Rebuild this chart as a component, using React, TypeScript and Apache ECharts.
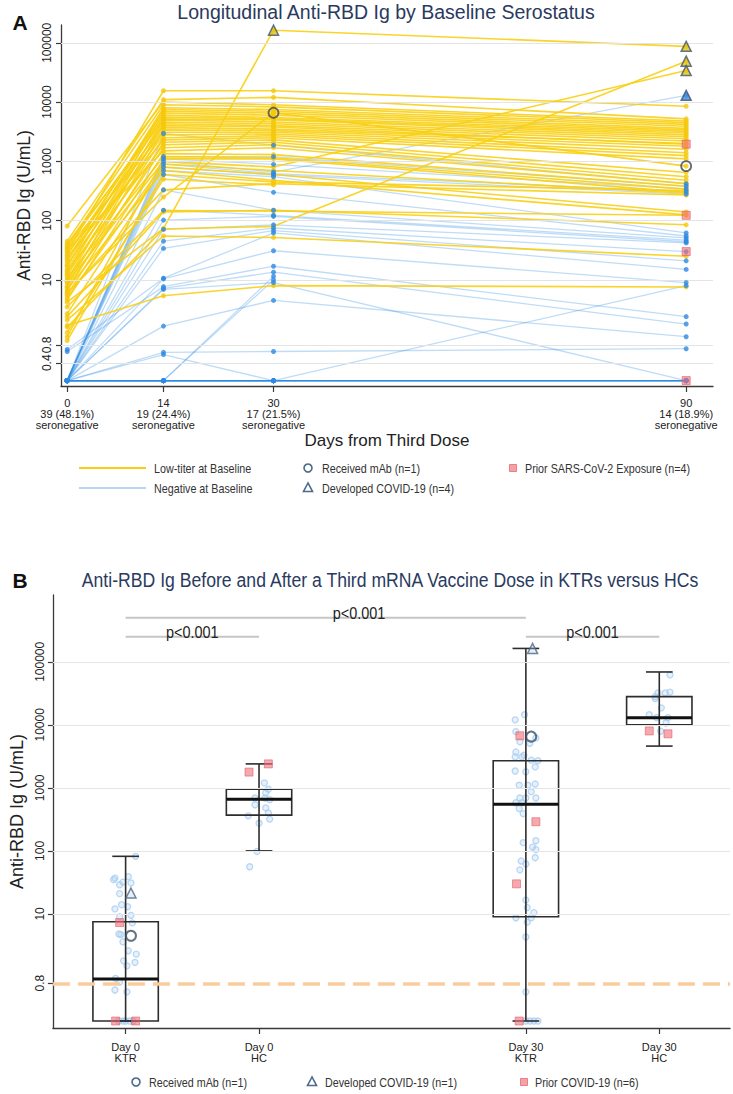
import React, { useEffect, useRef } from 'react';
import * as echarts from 'echarts';

const SANS = "'Liberation Sans', Arial, sans-serif";

// ---------- Panel A data ----------
const dayTicks = [0, 14, 30, 90];
const seronegCounts = ['39 (48.1%)', '19 (24.4%)', '17 (21.5%)', '14 (18.9%)'];
const yTicksA = [0.4, 0.8, 10, 100, 1000, 10000, 100000];
const yTicksB = [0.8, 10, 100, 1000, 10000, 100000];

// Low-titer at baseline (yellow)
const lowD0 = [30, 45, 81, 38, 22, 17, 26, 13, 36, 20, 10, 41, 15, 8, 28, 12, 6.5, 34, 18, 9.5, 24, 5.5, 14, 7.5, 32, 4.6, 11, 1.1, 9, 5, 2.7, 7, 0.95, 1.3, 6, 3.5, 2.4, 1.6, 4.2, 2.1, 1.7, 6];
const lowD14 = [15500, 11000, 10000, 9000, 8000, 7500, 7000, 6500, 6000, 5600, 5200, 5000, 4600, 4300, 4000, 3700, 3400, 3100, 2800, 2500, 2300, 2100, 1900, 1700, 1500, 1350, 1200, 1100, 1000, 900, 800, 700, 600, 500, 330, 148, 140, 72, 74, 55, 5.4, 250];
const lowD30 = [15500, 12000, 9000, 8300, 7500, 7000, 6500, 6000, 5500, 5200, 5000, 4600, 4300, 4000, 3800, 3500, 3300, 3100, 2900, 2700, 2500, 2300, 2100, 1900, 1700, 1300, 1150, 1100, 800, 700, 600, 480, 450, 400, 420, 145, 150, 80, 163000, 52, 8, 6600];
const lowD90 = [8500, 5200, 4800, 4500, 4200, 3900, 3600, 3400, 3200, 3000, 2800, 2600, 2400, 2200, 1950, 2000, 1800, 1600, 1400, 1250, 1100, 650, 550, 480, 420, 380, 340, 300, 34000, 290, 140, 125, 320, null, 270, 123, 85, 49000, 87000, 25, 7.6, 830];

// Negative at baseline (blue)
const negD0 = [0.2, 0.2, 0.2, 0.2, 0.2, 0.2, 0.2, 0.2, 0.2, 0.2, 0.2, 0.2, 0.2, 0.2, 0.67, 0.2, 0.62, 0.2, 0.2, 0.2, 0.2, 0.2, 0.2, 0.2, 0.2, 0.2, 0.2, 0.2, 0.2, 0.2, 0.2, 0.2, 0.2, 0.2, 0.2, 0.2, 0.2, 0.2, 0.2];
const negD14 = [2950, 1200, 1100, 1000, 900, 800, 700, 600, 330, 150, 102, 71, 45, 34, 10.7, 10.4, 7.7, 7.2, 6.9, 1.66, 0.6, 0.55, 0.2, 0.2, 0.2, 0.2, 0.2, 0.2, 0.2, 0.2, 0.2, 0.2, 0.2, 0.2, 0.2, 0.2, 0.2, 0.2, 0.2];
const negD30 = [1870, 1200, 890, 660, 620, 590, 550, 300, 150, 123, 118, 85, 75, 68, 62, 31, 17, 13.5, 9, 4.5, 0.62, 0.2, 11.5, 10, 0.2, 0.2, 0.2, 0.2, 0.2, 0.2, 0.2, 0.2, 0.2, 0.2, 0.2, 0.2, 0.2, 0.2, 0.2];
const negD90 = [420, 380, 340, 13000, 310, 280, 62, 55, 51, 47, 44, 42, 30, 21, 15, 9, 2.4, 1.8, 0.2, 1.1, 0.69, 8, null, null, 0.2, 0.2, 0.2, 0.2, 0.2, 0.2, 0.2, 0.2, 0.2, 0.2, 0.2, 0.2, null, null, null];

// Special markers, panel A: [day, value]
const mAbA = [[30, 6600], [90, 830]];
const covidLowA = [[30, 163000], [90, 87000], [90, 49000], [90, 34000]];
const covidNegA = [[90, 13000]];
const priorA = [[90, 1950], [90, 123], [90, 30], [90, 0.2]];

// ---------- Panel B data ----------
const groupNamesB = ['Day 0\nKTR', 'Day 0\nHC', 'Day 30\nKTR', 'Day 30\nHC'];
const groupPosB = [1, 2, 4, 5];
// [min, Q1, median, Q3, max]
const boxStatsB = [
  [0.2, 0.2, 0.93, 7.5, 82],
  [100, 370, 660, 950, 2400],
  [0.2, 9, 550, 2700, 163000],
  [4600, 10000, 13000, 28000, 69000],
];
const d0KtrVals = [82, 37, 32, 39, 31, 35, 29, 21, 14, 13, 12, 9.5, 9, 7.2, 4.8, 4.7, 3.6, 2.6, 2.3, 1.8, 1.7, 1.5, 0.95, 0.83, 0.62, 0.58, 0.2, 0.2, 0.2, 0.2, 0.2];
const d0KtrJit = [0.075, -0.08, -0.02, 0.02, 0.04, -0.09, -0.045, -0.045, -0.03, 0.015, -0.08, 0.04, -0.045, 0.05, -0.05, -0.035, -0.02, 0.02, 0.08, -0.015, 0.07, 0.01, -0.075, -0.045, -0.08, 0.01, -0.05, -0.02, 0.0, 0.03, 0.055];
const d0HcVals = [1200, 950, 830, 690, 690, 650, 540, 480, 360, 400, 320, 275, 98, 56];
const d0HcJit = [0.04, 0.07, 0.05, -0.03, 0.045, 0.08, -0.03, 0.05, -0.08, 0.07, 0.08, 0.0, -0.015, -0.07];
const d30KtrVals = [14500, 12000, 7800, 6200, 5400, 5100, 3700, 3300, 3100, 3100, 2750, 2700, 2150, 1850, 1800, 1100, 1100, 1150, 870, 690, 690, 690, 580, 580, 470, 390, 145, 135, 115, 105, 78, 69, 62, 50, 16.6, 12.6, 10.5, 8.7, 8.7, 7.4, 4.3, 0.58, 0.2, 0.2, 0.2, 0.2];
const d30KtrJit = [-0.01, -0.08, -0.075, 0.075, -0.045, 0.03, -0.075, -0.015, -0.08, -0.03, 0.04, 0.09, 0.07, -0.08, 0.0, -0.05, 0.015, 0.07, 0.04, -0.045, 0.0, 0.075, -0.03, -0.075, -0.05, -0.02, 0.075, -0.02, 0.05, 0.075, 0.07, -0.035, 0.0, -0.045, 0.0, 0.01, 0.06, 0.04, -0.075, 0.01, 0.0, 0.0, 0.0, 0.03, 0.06, 0.09];
const d30HcVals = [62000, 33000, 32000, 32000, 28000, 26000, 18600, 14500, 13000, 13000, 10700, 7900];
const d30HcJit = [0.08, 0.08, 0.045, -0.01, -0.03, -0.03, 0.015, -0.075, -0.02, 0.065, 0.05, 0.01];

// Special markers, panel B: [x position, value]
const mAbB = [[1.04, 4.5], [4.04, 6500]];
const covidB = [[1.04, 21.5], [4.05, 163000]];
const priorB = [[0.955, 7.3], [0.925, 0.2], [1.075, 0.2], [1.925, 1780], [2.07, 2400], [3.955, 6700], [4.075, 290], [3.93, 30], [3.95, 0.2], [4.925, 8000], [5.065, 7200]];

// p-value brackets
const pBrackets = [
  { from: 1, to: 4, level: 500000, labelX: 2.75, text: 'p<0.001' },
  { from: 1, to: 2, level: 250000, labelX: 1.5, text: 'p<0.001' },
  { from: 4, to: 5, level: 250000, labelX: 4.5, text: 'p<0.001' },
];
const cutoff = 0.8;

const lg = (v: number) => Math.log10(v);
const fmtLog = (v: number) => {
  const val = Math.pow(10, v);
  if (val < 1) return String(Math.round(val * 10) / 10);
  return String(Math.round(val));
};

export default function App() {
  const ref = useRef<HTMLDivElement>(null);
  useEffect(() => {
    document.body.style.margin = '0';
    const chart = echarts.init(ref.current!, undefined, { renderer: 'svg' });

    const YELLOW = '#f8cf14';
    const BLUE_LINE = '#2a8ae4';
    const BLUE_DOT = '#2e8ae2';

    const series: any[] = [];

    series.push({
      type: 'line', xAxisIndex: 0, yAxisIndex: 0, data: [], silent: true, z: 0,
      markLine: {
        silent: true, symbol: ['none', 'none'], label: { show: false },
        lineStyle: { color: '#e4e4e4', width: 1, type: 'solid' },
        data: yTicksA.map((v) => ({ yAxis: lg(v) })),
      },
    });

    const traj = (vals: (number | null)[]) =>
      dayTicks.map((d, i) => (vals[i] == null ? null : [d, lg(vals[i] as number)])).filter((p) => p !== null);

    negD0.forEach((_, i) => {
      series.push({
        type: 'line', xAxisIndex: 0, yAxisIndex: 0, silent: true, showSymbol: false, z: 2,
        data: traj([negD0[i], negD14[i], negD30[i], negD90[i]]),
        lineStyle: { color: BLUE_LINE, width: 1.3, opacity: 0.3 },
      });
    });
    lowD0.forEach((_, i) => {
      series.push({
        type: 'line', xAxisIndex: 0, yAxisIndex: 0, silent: true, showSymbol: false, z: 3,
        data: traj([lowD0[i], lowD14[i], lowD30[i], lowD90[i]]),
        lineStyle: { color: YELLOW, width: 1.6, opacity: 0.9 },
      });
    });
    const lowPts: number[][] = [];
    lowD0.forEach((_, i) => traj([lowD0[i], lowD14[i], lowD30[i], lowD90[i]]).forEach((p) => lowPts.push(p as number[])));
    const negPts: number[][] = [];
    negD0.forEach((_, i) => traj([negD0[i], negD14[i], negD30[i], negD90[i]]).forEach((p) => negPts.push(p as number[])));
    series.push({
      type: 'scatter', xAxisIndex: 0, yAxisIndex: 0, silent: true, z: 4, symbolSize: 5,
      data: lowPts, itemStyle: { color: '#f5c80f' },
    });
    series.push({
      type: 'scatter', xAxisIndex: 0, yAxisIndex: 0, silent: true, z: 5, symbolSize: 5,
      data: negPts, itemStyle: { color: BLUE_DOT },
    });
    series.push({
      type: 'scatter', xAxisIndex: 0, yAxisIndex: 0, silent: true, z: 6, symbol: 'rect', symbolSize: 8,
      data: priorA.map(([d, v]) => [d, lg(v)]),
      itemStyle: { color: 'rgba(240,110,120,0.75)', borderColor: 'rgba(225,90,100,0.8)', borderWidth: 1 },
    });
    series.push({
      type: 'scatter', xAxisIndex: 0, yAxisIndex: 0, silent: true, z: 7, symbol: 'triangle', symbolSize: 10,
      data: covidLowA.map(([d, v]) => [d, lg(v)]),
      itemStyle: { color: '#e6c414', borderColor: '#3d5676', borderWidth: 1.5 },
    });
    series.push({
      type: 'scatter', xAxisIndex: 0, yAxisIndex: 0, silent: true, z: 7, symbol: 'triangle', symbolSize: 10,
      data: covidNegA.map(([d, v]) => [d, lg(v)]),
      itemStyle: { color: '#3f8fdc', borderColor: '#3d5676', borderWidth: 1.5 },
    });
    series.push({
      type: 'scatter', xAxisIndex: 0, yAxisIndex: 0, silent: true, z: 7, symbol: 'circle', symbolSize: 10,
      data: mAbA.map(([d, v]) => [d, lg(v)]),
      itemStyle: { color: 'rgba(0,0,0,0)', borderColor: '#3b4756', borderWidth: 1.8 },
    });

    // ---------- Panel B ----------
    series.push({
      type: 'line', xAxisIndex: 1, yAxisIndex: 1, data: [], silent: true, z: 0,
      markLine: {
        silent: true, symbol: ['none', 'none'], label: { show: false },
        lineStyle: { color: '#e6e6e6', width: 1, type: 'solid' },
        data: yTicksB.filter((v) => v >= 10).map((v) => ({ yAxis: lg(v) })),
      },
    });
    series.push({
      type: 'line', xAxisIndex: 1, yAxisIndex: 1, data: [], silent: true, z: 1,
      markLine: {
        silent: true, symbol: ['none', 'none'], label: { show: false },
        lineStyle: { color: '#f8cd9e', width: 3.5, type: [17, 8] },
        data: [{ yAxis: lg(cutoff) }],
      },
    });
    const valsB = [d0KtrVals, d0HcVals, d30KtrVals, d30HcVals];
    const jitB = [d0KtrJit, d0HcJit, d30KtrJit, d30HcJit];
    const ptsB: number[][] = [];
    valsB.forEach((arr, g) => arr.forEach((v, k) => ptsB.push([groupPosB[g] + jitB[g][k], lg(v)])));
    series.push({
      type: 'scatter', xAxisIndex: 1, yAxisIndex: 1, silent: true, z: 3, symbolSize: 6,
      data: ptsB,
      itemStyle: { color: 'rgba(170,206,240,0.35)', borderColor: '#a8cdf0', borderWidth: 1.3 },
    });
    series.push({
      type: 'custom', xAxisIndex: 1, yAxisIndex: 1, silent: true, z: 4,
      data: boxStatsB.map((s, i) => [groupPosB[i], ...s.map(lg)]),
      encode: { x: 0, y: [1, 2, 3, 4, 5] },
      renderItem: (params: any, api: any) => {
        const x = api.value(0);
        const p = [1, 2, 3, 4, 5].map((k) => api.coord([x, api.value(k)]));
        const cx = p[0][0];
        const unit = api.size([1, 0])[0];
        const hw = unit * 0.245;
        const cw = unit * 0.1;
        const stroke = '#2d2d2d';
        return {
          type: 'group',
          children: [
            { type: 'line', shape: { x1: cx, y1: p[0][1], x2: cx, y2: p[4][1] }, style: { stroke, lineWidth: 1.6 } },
            { type: 'line', shape: { x1: cx - cw, y1: p[4][1], x2: cx + cw, y2: p[4][1] }, style: { stroke, lineWidth: 1.6 } },
            { type: 'line', shape: { x1: cx - cw, y1: p[0][1], x2: cx + cw, y2: p[0][1] }, style: { stroke, lineWidth: 1.6 } },
            { type: 'rect', shape: { x: cx - hw, y: p[3][1], width: 2 * hw, height: p[1][1] - p[3][1] }, style: { fill: 'rgba(0,0,0,0)', stroke, lineWidth: 1.6 } },
            { type: 'line', shape: { x1: cx - hw, y1: p[2][1], x2: cx + hw, y2: p[2][1] }, style: { stroke: '#111', lineWidth: 3 } },
          ],
        };
      },
    });
    series.push({
      type: 'scatter', xAxisIndex: 1, yAxisIndex: 1, silent: true, z: 6, symbol: 'rect', symbolSize: 8,
      data: priorB.map(([x, v]) => [x, lg(v)]),
      itemStyle: { color: 'rgba(238,110,118,0.75)', borderColor: 'rgba(225,90,100,0.7)', borderWidth: 1 },
    });
    series.push({
      type: 'scatter', xAxisIndex: 1, yAxisIndex: 1, silent: true, z: 7, symbol: 'triangle', symbolSize: 10,
      data: covidB.map(([x, v]) => [x, lg(v)]),
      itemStyle: { color: 'rgba(170,206,240,0.4)', borderColor: '#4d6585', borderWidth: 1.5 },
    });
    series.push({
      type: 'scatter', xAxisIndex: 1, yAxisIndex: 1, silent: true, z: 7, symbol: 'circle', symbolSize: 10,
      data: mAbB.map(([x, v]) => [x, lg(v)]),
      itemStyle: { color: 'rgba(0,0,0,0)', borderColor: '#3b5068', borderWidth: 2 },
    });

    const axisLine = { show: true, onZero: false, lineStyle: { color: '#3a3a3a', width: 1.3 } };
    const tickStyle = { lineStyle: { color: '#3a3a3a', width: 1.2 } };

    const option: any = {
      animation: false,
      grid: [
        { left: 61, top: 25, width: 652, height: 361 },
        { left: 50, top: 595, width: 680, height: 433 },
      ],
      xAxis: [
        {
          type: 'value', gridIndex: 0, min: -0.9, max: 93.9,
          axisLine, splitLine: { show: false },
          axisTick: { show: true, customValues: dayTicks, length: 6, ...tickStyle },
          axisLabel: {
            customValues: dayTicks, margin: 11, fontFamily: SANS, fontSize: 11, lineHeight: 11, color: '#222',
            formatter: (v: number) => {
              const i = dayTicks.findIndex((d) => Math.abs(d - v) < 1e-6);
              return i >= 0 ? `${dayTicks[i]}\n${seronegCounts[i]}\nseronegative` : '';
            },
          },
        },
        {
          type: 'value', gridIndex: 1, min: 0.455, max: 5.53,
          axisLine, splitLine: { show: false },
          axisTick: { show: true, customValues: groupPosB, length: 6, ...tickStyle },
          axisLabel: {
            customValues: groupPosB, margin: 13, fontFamily: SANS, fontSize: 11, lineHeight: 11, color: '#222',
            formatter: (v: number) => {
              const i = groupPosB.findIndex((d) => Math.abs(d - v) < 1e-6);
              return i >= 0 ? groupNamesB[i] : '';
            },
          },
        },
      ],
      yAxis: [
        {
          type: 'value', gridIndex: 0, min: -0.79, max: 5.3,
          axisLine, splitLine: { show: false },
          axisTick: { show: true, customValues: yTicksA.map(lg), length: 5, ...tickStyle },
          axisLabel: { customValues: yTicksA.map(lg), rotate: 90, margin: 8, fontFamily: SANS, fontSize: 12, color: '#222', formatter: fmtLog },
          name: 'Anti-RBD Ig (U/mL)', nameLocation: 'middle', nameGap: 23,
          nameTextStyle: { fontFamily: SANS, fontSize: 17.5, color: '#222' },
        },
        {
          type: 'value', gridIndex: 1, min: -0.81, max: 6.06,
          axisLine, splitLine: { show: false },
          axisTick: { show: true, customValues: yTicksB.map(lg), length: 5, ...tickStyle },
          axisLabel: { customValues: yTicksB.map(lg), rotate: 90, margin: 7, fontFamily: SANS, fontSize: 12, color: '#222', formatter: fmtLog },
          name: 'Anti-RBD Ig (U/mL)', nameLocation: 'middle', nameGap: 20,
          nameTextStyle: { fontFamily: SANS, fontSize: 18, color: '#222' },
        },
      ],
      series,
    };
    chart.setOption(option);

    const px = (x: number, v: number) => chart.convertToPixel({ gridIndex: 1 } as any, [x, lg(v)]) as number[];
    const g: any[] = [];
    const text = (x: number, y: number, t: string, size: number, sx: number, extra: any = {}) => ({
      type: 'text', x, y, scaleX: sx,
      style: { text: t, fontSize: size, fontFamily: SANS, fill: '#333', align: 'left', verticalAlign: 'middle', ...extra },
    });
    g.push(text(20, 22, 'A', 21, 1, { fontWeight: 'bold', fill: '#111', align: 'center' }));
    g.push(text(386, 12, 'Longitudinal Anti-RBD Ig by Baseline Serostatus', 19.5, 1, { fill: '#2a3a5e', align: 'center' }));
    g.push(text(387, 440, 'Days from Third Dose', 17, 1, { fill: '#222', align: 'center' }));
    g.push(text(20, 580, 'B', 21, 1, { fontWeight: 'bold', fill: '#111', align: 'center' }));
    g.push(text(390, 579, 'Anti-RBD Ig Before and After a Third mRNA Vaccine Dose in KTRs versus HCs', 21, 0.84, { fill: '#2a3a5e', align: 'center' }));

    const LEG = '#4c6a8c';
    const LS = 12.5;
    const LX = 0.86;
    g.push({ type: 'line', shape: { x1: 79, y1: 468, x2: 146, y2: 468 }, style: { stroke: YELLOW, lineWidth: 2 } });
    g.push(text(154, 468, 'Low-titer at Baseline', LS, LX));
    g.push({ type: 'line', shape: { x1: 79, y1: 488, x2: 146, y2: 488 }, style: { stroke: '#b8d6f3', lineWidth: 2 } });
    g.push(text(154, 488, 'Negative at Baseline', LS, LX));
    g.push({ type: 'circle', shape: { cx: 308, cy: 468, r: 4 }, style: { fill: 'rgba(0,0,0,0)', stroke: LEG, lineWidth: 1.6 } });
    g.push(text(322, 468, 'Received mAb (n=1)', LS, LX));
    g.push({ type: 'polygon', shape: { points: [[308, 483], [303.5, 491.5], [312.5, 491.5]] }, style: { fill: 'rgba(0,0,0,0)', stroke: LEG, lineWidth: 1.6 } });
    g.push(text(322, 488, 'Developed COVID-19 (n=4)', LS, LX));
    g.push({ type: 'rect', shape: { x: 509.5, y: 464.5, width: 7, height: 7 }, style: { fill: '#f3a2a7', stroke: '#ea7f87', lineWidth: 1 } });
    g.push(text(525, 468, 'Prior SARS-CoV-2 Exposure (n=4)', LS, LX));

    g.push({ type: 'circle', shape: { cx: 136, cy: 1082, r: 4 }, style: { fill: 'rgba(0,0,0,0)', stroke: LEG, lineWidth: 1.6 } });
    g.push(text(149, 1082, 'Received mAb (n=1)', LS, LX));
    g.push({ type: 'polygon', shape: { points: [[312, 1077], [307.5, 1085.5], [316.5, 1085.5]] }, style: { fill: 'rgba(0,0,0,0)', stroke: LEG, lineWidth: 1.6 } });
    g.push(text(325, 1082, 'Developed COVID-19 (n=1)', LS, LX));
    g.push({ type: 'rect', shape: { x: 520.5, y: 1078.5, width: 7, height: 7 }, style: { fill: '#f3a2a7', stroke: '#ea7f87', lineWidth: 1 } });
    g.push(text(535, 1082, 'Prior COVID-19 (n=6)', LS, LX));

    pBrackets.forEach((b) => {
      const a = px(b.from, b.level);
      const c = px(b.to, b.level);
      const t = px(b.labelX, b.level);
      g.push({ type: 'line', shape: { x1: a[0], y1: a[1], x2: c[0], y2: c[1] }, style: { stroke: '#c6c6c6', lineWidth: 2 } });
      g.push(text(t[0], t[1] - 5, b.text, 17, 0.85, { fill: '#222', align: 'center' }));
    });

    chart.setOption({ graphic: g });
    return () => chart.dispose();
  }, []);
  return <div ref={ref} style={{ width: 733, height: 1094 }} />;
}
